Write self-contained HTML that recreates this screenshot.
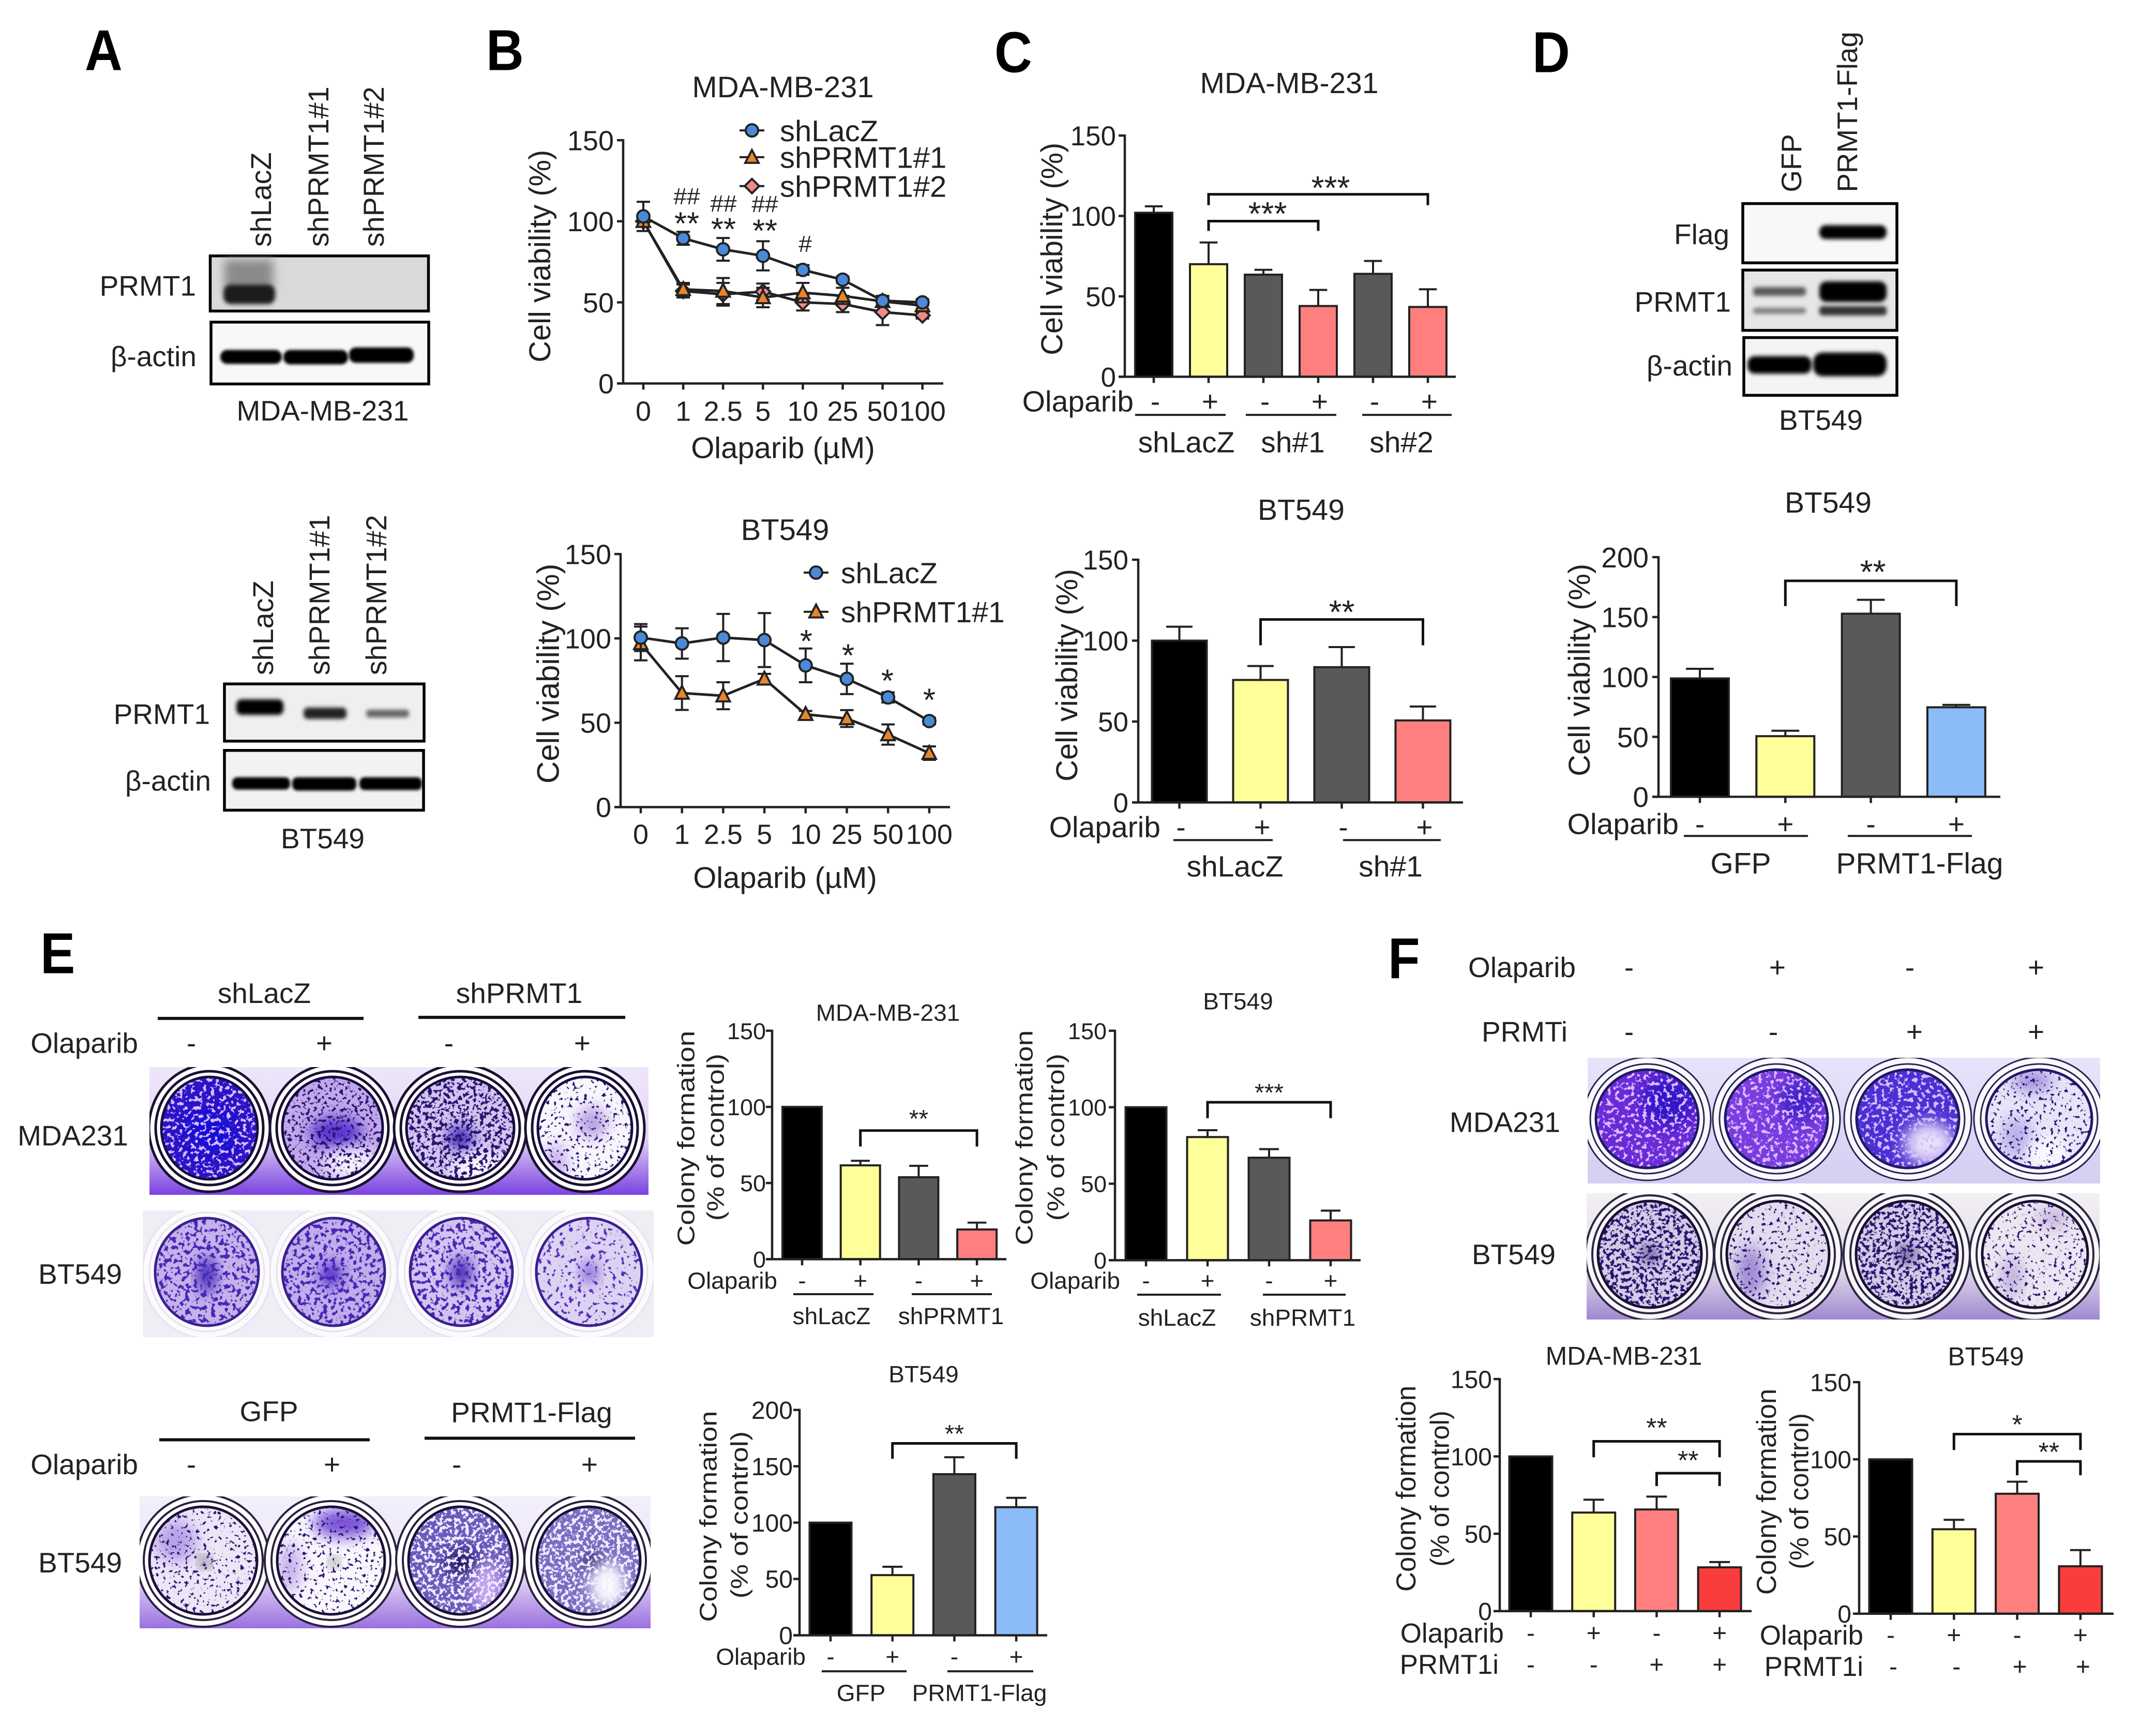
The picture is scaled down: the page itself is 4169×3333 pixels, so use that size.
<!DOCTYPE html>
<html lang="en">
<head>
<meta charset="utf-8">
<title>PRMT1 olaparib figure</title>
<style>
html,body{margin:0;padding:0;background:#fff;}
svg{display:block;}
text{font-family:"Liberation Sans",sans-serif;fill:#222;}
.m{text-anchor:middle;}
.e{text-anchor:end;}
.l{font-weight:bold;fill:#000;font-size:112px;}
</style>
</head>
<body>
<svg id="fig" xmlns="http://www.w3.org/2000/svg" width="4169" height="3333" viewBox="0 0 4169 3333">
<defs>
<filter id="b3" x="-30%" y="-60%" width="160%" height="220%"><feGaussianBlur stdDeviation="3"/></filter>
<filter id="b4" x="-30%" y="-60%" width="160%" height="220%"><feGaussianBlur stdDeviation="4"/></filter>
<filter id="b9" x="-30%" y="-80%" width="160%" height="260%"><feGaussianBlur stdDeviation="9"/></filter>
<filter id="p14" x="-50%" y="-50%" width="200%" height="200%"><feGaussianBlur stdDeviation="14"/></filter>
<filter id="d1" x="0" y="0" width="100%" height="100%" color-interpolation-filters="sRGB"><feTurbulence type="fractalNoise" baseFrequency=".14" numOctaves="2" seed="3"/><feColorMatrix values="0 0 0 0 .16  0 0 0 0 .08  0 0 0 0 .45  12 0 0 0 -7.4"/></filter>
<filter id="d2" x="0" y="0" width="100%" height="100%" color-interpolation-filters="sRGB"><feTurbulence type="fractalNoise" baseFrequency=".14" numOctaves="2" seed="7"/><feColorMatrix values="0 0 0 0 .16  0 0 0 0 .08  0 0 0 0 .45  12 0 0 0 -6.7"/></filter>
<filter id="d3" x="0" y="0" width="100%" height="100%" color-interpolation-filters="sRGB"><feTurbulence type="fractalNoise" baseFrequency=".14" numOctaves="2" seed="11"/><feColorMatrix values="0 0 0 0 .16  0 0 0 0 .08  0 0 0 0 .45  12 0 0 0 -6.1"/></filter>
<filter id="v1" x="0" y="0" width="100%" height="100%" color-interpolation-filters="sRGB"><feTurbulence type="fractalNoise" baseFrequency=".12" numOctaves="2" seed="13"/><feColorMatrix values="0 0 0 0 .34  0 0 0 0 .18  0 0 0 0 .74  12 0 0 0 -7.2"/></filter>
<filter id="v2" x="0" y="0" width="100%" height="100%" color-interpolation-filters="sRGB"><feTurbulence type="fractalNoise" baseFrequency=".12" numOctaves="2" seed="17"/><feColorMatrix values="0 0 0 0 .3  0 0 0 0 .14  0 0 0 0 .72  12 0 0 0 -6.4"/></filter>
<filter id="w1" x="0" y="0" width="100%" height="100%" color-interpolation-filters="sRGB"><feTurbulence type="fractalNoise" baseFrequency=".13" numOctaves="2" seed="5"/><feColorMatrix values="0 0 0 0 .86  0 0 0 0 .74  0 0 0 0 1  12 0 0 0 -6.6"/></filter>
<filter id="w2" x="0" y="0" width="100%" height="100%" color-interpolation-filters="sRGB"><feTurbulence type="fractalNoise" baseFrequency=".14" numOctaves="2" seed="9"/><feColorMatrix values="0 0 0 0 .95  0 0 0 0 .93  0 0 0 0 1  12 0 0 0 -6"/></filter>
<linearGradient id="pg1" x1="0" y1="0" x2="0" y2="1"><stop offset="0" stop-color="#efe6fa"/><stop offset=".55" stop-color="#e4d6f6"/><stop offset="1" stop-color="#7a42e0"/></linearGradient>
<linearGradient id="pg3" x1="0" y1="0" x2="0" y2="1"><stop offset="0" stop-color="#f2eefa"/><stop offset=".55" stop-color="#efe8f8"/><stop offset="1" stop-color="#9a70e0"/></linearGradient>
<linearGradient id="pg4" x1="0" y1="0" x2="0" y2="1"><stop offset="0" stop-color="#e6e4fa"/><stop offset="1" stop-color="#d4cef2"/></linearGradient>
<linearGradient id="pg5" x1="0" y1="0" x2="0" y2="1"><stop offset="0" stop-color="#f2f0f2"/><stop offset=".6" stop-color="#e4dcec"/><stop offset="1" stop-color="#a088d0"/></linearGradient>
</defs>

<g id="top" transform="scale(1 .9964)">
<!-- panel letters -->
<text class="l" transform="translate(164 136) scale(.9 1)">A</text>
<text class="l" transform="translate(940 136) scale(.9 1)">B</text>
<text class="l" transform="translate(1923 140) scale(.9 1)">C</text>
<text class="l" transform="translate(2963 140) scale(.9 1)">D</text>

<!-- panel A blots -->
<g>
<rect x="406.5" y="496.5" width="422" height="107" fill="#d9d9d9" stroke="#000" stroke-width="5.5"/>
<rect x="434" y="504" width="94" height="56" fill="#8a8a8a" filter="url(#b9)"/>
<rect x="432" y="552" width="100" height="38" rx="14" fill="#1c1c1c" filter="url(#b4)"/>
<rect x="408" y="625" width="421" height="120" fill="#f8f8f8" stroke="#000" stroke-width="5.5"/>
<rect x="426" y="679" width="119" height="27" rx="13" fill="#000" filter="url(#b3)"/>
<rect x="548" y="679" width="125" height="28" rx="13" fill="#000" filter="url(#b3)"/>
<rect x="675" y="674" width="125" height="30" rx="13" fill="#000" filter="url(#b3)"/>
</g>
<text transform="translate(504 479) rotate(-90)" dy=".36em" font-size="56">shLacZ</text>
<text transform="translate(615 479) rotate(-90)" dy=".36em" font-size="56">shPRMT1#1</text>
<text transform="translate(722 479) rotate(-90)" dy=".36em" font-size="56">shPRMT1#2</text>
<text class="e" x="379" y="554" dy=".36em" font-size="55">PRMT1</text>
<text class="e" x="380" y="691" dy=".36em" font-size="55">β-actin</text>
<text class="m" x="624" y="796" dy=".36em" font-size="55">MDA-MB-231</text>

<g>
<rect x="434" y="1327" width="386" height="111" fill="#efefef" stroke="#000" stroke-width="5.5"/>
<rect x="457" y="1357" width="91" height="30" rx="10" fill="#000" filter="url(#b4)"/>
<rect x="587" y="1373" width="83" height="22" rx="8" fill="#222" filter="url(#b4)"/>
<rect x="708" y="1377" width="83" height="15" rx="6" fill="#666" filter="url(#b4)"/>
<rect x="434" y="1456" width="385" height="116" fill="#f2f2f2" stroke="#000" stroke-width="5.5"/>
<rect x="449" y="1508" width="112" height="24" rx="10" fill="#000" filter="url(#b3)"/>
<rect x="565" y="1508" width="124" height="26" rx="10" fill="#000" filter="url(#b3)"/>
<rect x="695" y="1508" width="121" height="25" rx="10" fill="#000" filter="url(#b3)"/>
</g>
<text transform="translate(508 1310) rotate(-90)" dy=".36em" font-size="56">shLacZ</text>
<text transform="translate(617 1310) rotate(-90)" dy=".36em" font-size="56">shPRMT1#1</text>
<text transform="translate(727 1310) rotate(-90)" dy=".36em" font-size="56">shPRMT1#2</text>
<text class="e" x="406" y="1385" dy=".36em" font-size="55">PRMT1</text>
<text class="e" x="408" y="1514" dy=".36em" font-size="55">β-actin</text>
<text class="m" x="624" y="1626" dy=".36em" font-size="55">BT549</text>

<!-- panel D blots -->
<g>
<rect x="3370" y="395" width="298" height="115" fill="#f8f8f8" stroke="#000" stroke-width="5.5"/>
<rect x="3518" y="437" width="130" height="27" rx="12" fill="#000" filter="url(#b4)"/>
<rect x="3370" y="524" width="298" height="117" fill="#e6e6e6" stroke="#000" stroke-width="5.5"/>
<rect x="3390" y="557" width="102" height="17" rx="6" fill="#5a5a5a" filter="url(#b4)"/>
<rect x="3390" y="597" width="102" height="12" rx="5" fill="#808080" filter="url(#b4)"/>
<rect x="3518" y="546" width="130" height="40" rx="14" fill="#000" filter="url(#b4)"/>
<rect x="3518" y="594" width="130" height="18" rx="6" fill="#333" filter="url(#b4)"/>
<rect x="3372" y="655" width="296" height="112" fill="#f4f4f4" stroke="#000" stroke-width="5.5"/>
<rect x="3379" y="691" width="124" height="34" rx="14" fill="#000" filter="url(#b4)"/>
<rect x="3506" y="684" width="142" height="46" rx="18" fill="#000" filter="url(#b4)"/>
</g>
<text transform="translate(3463 373) rotate(-90)" dy=".36em" font-size="55">GFP</text>
<text transform="translate(3571 373) rotate(-90)" dy=".36em" font-size="55">PRMT1-Flag</text>
<text class="e" x="3344" y="454" dy=".36em" font-size="55">Flag</text>
<text class="e" x="3347" y="585" dy=".36em" font-size="55">PRMT1</text>
<text class="e" x="3350" y="709" dy=".36em" font-size="55">β-actin</text>
<text class="m" x="3521" y="814" dy=".36em" font-size="55">BT549</text>

<!-- panel B text -->
<text class="m" x="1514" y="168" dy=".36em" font-size="58">MDA-MB-231</text>
<text class="m" transform="translate(1043 497) rotate(-90)" dy=".36em" font-size="58">Cell viability (%)</text>
<text class="m" x="1514" y="868" dy=".36em" font-size="58">Olaparib (µM)</text>
<text x="1508" y="253" dy=".36em" font-size="58">shLacZ</text>
<text x="1508" y="305" dy=".36em" font-size="58">shPRMT1#1</text>
<text x="1508" y="361" dy=".36em" font-size="58">shPRMT1#2</text>
<g font-size="46" class="m">
<text class="m" x="1328" y="380" dy=".36em">##</text>
<text class="m" x="1399" y="394" dy=".36em">##</text>
<text class="m" x="1479" y="395" dy=".36em">##</text>
<text class="m" x="1557" y="472" dy=".36em">#</text>
<text class="m" x="1328" y="420" dy=".57em" font-size="62">**</text>
<text class="m" x="1399" y="431" dy=".57em" font-size="62">**</text>
<text class="m" x="1479" y="434" dy=".57em" font-size="62">**</text>
</g>
<text class="m" x="1518" y="1027" dy=".36em" font-size="58">BT549</text>
<text class="m" transform="translate(1059 1307) rotate(-90)" dy=".36em" font-size="60">Cell viability (%)</text>
<text class="m" x="1518" y="1702" dy=".36em" font-size="58">Olaparib (µM)</text>
<text x="1626" y="1111" dy=".36em" font-size="57">shLacZ</text>
<text x="1626" y="1187" dy=".36em" font-size="57">shPRMT1#1</text>
<g>
<text class="m" x="1559" y="1230" dy=".57em" font-size="62">*</text>
<text class="m" x="1640" y="1258" dy=".57em" font-size="62">*</text>
<text class="m" x="1716" y="1307" dy=".57em" font-size="62">*</text>
<text class="m" x="1797" y="1344" dy=".57em" font-size="62">*</text>
</g>

<!-- panel C text -->
<text class="m" x="2493" y="160" dy=".36em" font-size="57">MDA-MB-231</text>
<text class="m" transform="translate(2033 483) rotate(-90)" dy=".36em" font-size="58">Cell viability (%)</text>
<text class="e" x="2192" y="778" dy=".36em" font-size="57">Olaparib</text>
<text class="m" x="2294" y="857" dy=".36em" font-size="57">shLacZ</text>
<text class="m" x="2500" y="857" dy=".36em" font-size="57">sh#1</text>
<text class="m" x="2710" y="857" dy=".36em" font-size="57">sh#2</text>
<path d="M2195 805H2370M2409 805H2584M2634 805H2807" stroke="#222" stroke-width="4" fill="none"/>

<text class="m" x="2516" y="988" dy=".36em" font-size="57">BT549</text>
<text class="m" transform="translate(2062 1310) rotate(-90)" dy=".36em" font-size="58">Cell viability (%)</text>
<text class="e" x="2244" y="1604" dy=".36em" font-size="57">Olaparib</text>
<text class="m" x="2388" y="1680" dy=".36em" font-size="57">shLacZ</text>
<text class="m" x="2689" y="1680" dy=".36em" font-size="57">sh#1</text>
<path d="M2269 1630H2461M2597 1630H2786" stroke="#222" stroke-width="4" fill="none"/>

<!-- panel D chart text -->
<text class="m" x="3535" y="974" dy=".36em" font-size="57">BT549</text>
<text class="m" transform="translate(3053 1300) rotate(-90)" dy=".36em" font-size="58">Cell viability (%)</text>
<text class="e" x="3246" y="1598" dy=".36em" font-size="57">Olaparib</text>
<text class="m" x="3366" y="1674" dy=".36em" font-size="57">GFP</text>
<text class="m" x="3712" y="1674" dy=".36em" font-size="57">PRMT1-Flag</text>
<path d="M3256 1622H3496M3573 1622H3813" stroke="#222" stroke-width="4" fill="none"/>
</g>

<g id="bot" transform="translate(0 1750) scale(1 .9947) translate(0 -1750)">
<text class="l" transform="translate(78 1882) scale(.9 1)">E</text>
<text class="l" transform="translate(2684 1892) scale(.9 1)">F</text>

<!-- panel E plate labels -->
<text class="m" x="511" y="1920" dy=".36em" font-size="55">shLacZ</text>
<text class="m" x="1004" y="1920" dy=".36em" font-size="55">shPRMT1</text>
<path d="M305 1970H703M809 1968H1209" stroke="#111" stroke-width="6" fill="none"/>
<text class="e" x="267" y="2017" dy=".36em" font-size="55">Olaparib</text>
<g font-size="55">
<text class="m" x="370" y="2017" dy=".36em">-</text>
<text class="m" x="627" y="2017" dy=".36em">+</text>
<text class="m" x="868" y="2017" dy=".36em">-</text>
<text class="m" x="1126" y="2017" dy=".36em">+</text>
</g>
<text class="m" x="141" y="2197" dy=".36em" font-size="55">MDA231</text>
<text class="m" x="155" y="2466" dy=".36em" font-size="55">BT549</text>
<text class="m" x="520" y="2733" dy=".36em" font-size="55">GFP</text>
<text class="m" x="1028" y="2735" dy=".36em" font-size="55">PRMT1-Flag</text>
<path d="M308 2789H715M821 2786H1228" stroke="#111" stroke-width="6" fill="none"/>
<text class="e" x="267" y="2836" dy=".36em" font-size="55">Olaparib</text>
<g font-size="55">
<text class="m" x="370" y="2836" dy=".36em">-</text>
<text class="m" x="642" y="2836" dy=".36em">+</text>
<text class="m" x="883" y="2836" dy=".36em">-</text>
<text class="m" x="1140" y="2836" dy=".36em">+</text>
</g>
<text class="m" x="155" y="3027" dy=".36em" font-size="55">BT549</text>

<!-- panel E chart text -->
<text class="m" x="1717" y="1958" dy=".36em" font-size="46">MDA-MB-231</text>
<text class="m" transform="translate(1326 2203) rotate(-90)" dy=".36em" font-size="46" textLength="418" lengthAdjust="spacingAndGlyphs">Colony formation</text>
<text class="m" transform="translate(1383 2201) rotate(-90)" dy=".36em" font-size="46" textLength="325" lengthAdjust="spacingAndGlyphs">(% of control)</text>
<text class="e" x="1503" y="2479" dy=".36em" font-size="46">Olaparib</text>
<text class="m" x="1608" y="2548" dy=".36em" font-size="46">shLacZ</text>
<text class="m" x="1839" y="2548" dy=".36em" font-size="46">shPRMT1</text>
<path d="M1534 2506H1689M1763 2506H1918" stroke="#222" stroke-width="4" fill="none"/>

<text class="m" x="2394" y="1936" dy=".36em" font-size="46">BT549</text>
<text class="m" transform="translate(1980 2202) rotate(-90)" dy=".36em" font-size="46" textLength="418" lengthAdjust="spacingAndGlyphs">Colony formation</text>
<text class="m" transform="translate(2041 2201) rotate(-90)" dy=".36em" font-size="46" textLength="325" lengthAdjust="spacingAndGlyphs">(% of control)</text>
<text class="e" x="2166" y="2479" dy=".36em" font-size="46">Olaparib</text>
<text class="m" x="2276" y="2551" dy=".36em" font-size="46">shLacZ</text>
<text class="m" x="2519" y="2551" dy=".36em" font-size="46">shPRMT1</text>
<path d="M2199 2507H2361M2442 2507H2602" stroke="#222" stroke-width="4" fill="none"/>

<text class="m" x="1786" y="2661" dy=".36em" font-size="46">BT549</text>
<text class="m" transform="translate(1369 2938) rotate(-90)" dy=".36em" font-size="46" textLength="410" lengthAdjust="spacingAndGlyphs">Colony formation</text>
<text class="m" transform="translate(1429 2935) rotate(-90)" dy=".36em" font-size="46" textLength="325" lengthAdjust="spacingAndGlyphs">(% of control)</text>
<text class="e" x="1558" y="3210" dy=".36em" font-size="46">Olaparib</text>
<text class="m" x="1665" y="3280" dy=".36em" font-size="46">GFP</text>
<text class="m" x="1894" y="3280" dy=".36em" font-size="46">PRMT1-Flag</text>
<path d="M1589 3239H1753M1832 3239H1998" stroke="#222" stroke-width="4" fill="none"/>

<!-- panel F labels -->
<text class="m" x="2943" y="1870" dy=".36em" font-size="55">Olaparib</text>
<text class="m" x="2948" y="1995" dy=".36em" font-size="55">PRMTi</text>
<g font-size="55">
<text class="m" x="3150" y="1870" dy=".36em">-</text>
<text class="m" x="3437" y="1870" dy=".36em">+</text>
<text class="m" x="3693" y="1870" dy=".36em">-</text>
<text class="m" x="3937" y="1870" dy=".36em">+</text>
<text class="m" x="3150" y="1995" dy=".36em">-</text>
<text class="m" x="3429" y="1995" dy=".36em">-</text>
<text class="m" x="3702" y="1995" dy=".36em">+</text>
<text class="m" x="3937" y="1995" dy=".36em">+</text>
</g>
<text class="m" x="2910" y="2171" dy=".36em" font-size="55">MDA231</text>
<text class="m" x="2927" y="2428" dy=".36em" font-size="55">BT549</text>

<text class="m" x="3140" y="2625" dy=".36em" font-size="50">MDA-MB-231</text>
<text class="m" transform="translate(2718 2884) rotate(-90)" dy=".36em" font-size="53">Colony formation</text>
<text class="m" transform="translate(2783 2884) rotate(-90)" dy=".36em" font-size="51">(% of control)</text>
<text class="e" x="2908" y="3164" dy=".36em" font-size="53">Olaparib</text>
<text class="e" x="2898" y="3225" dy=".36em" font-size="53">PRMT1i</text>

<text class="m" x="3840" y="2626" dy=".36em" font-size="50">BT549</text>
<text class="m" transform="translate(3415 2890) rotate(-90)" dy=".36em" font-size="53">Colony formation</text>
<text class="m" transform="translate(3478 2889) rotate(-90)" dy=".36em" font-size="51">(% of control)</text>
<text class="e" x="3603" y="3168" dy=".36em" font-size="53">Olaparib</text>
<text class="e" x="3603" y="3229" dy=".36em" font-size="53">PRMT1i</text>
</g>
</svg>

<script>
/* ---------- chart data ---------- */
const doseLabels = ['0','1','2.5','5','10','25','50','100'];
const viabilityTicks = [0,50,100,150];
const colonyTicks = [0,50,100,150];
const wideTicks = [0,50,100,150,200];

const b1ShLacZ = [103,89.5,82.7,78.7,70,64,51,50];
const b1ShLacZErr = [9,4,7,9,3,2,3,2];
const b1Sh1 = [100,58,57,53,56,54,50.6,48];
const b1Sh1Err = [3,4,8,6,6,5,3,2];
const b1Sh2 = [100,57,55,56.6,50,49,44,42];
const b1Sh2Err = [3,4,7,5,5,5,8,2];

const b2ShLacZ = [100.5,97,100.5,99,84,76,65,51];
const b2ShLacZErr = [8,9,14,16,10,9,3,2];
const b2Sh1 = [97,67.6,66,76,55,52.5,43,32];
const b2Sh1Err = [10,10,8,3,2,5,6,4];

const c1Categories = ['shLacZ -','shLacZ +','sh#1 -','sh#1 +','sh#2 -','sh#2 +'];
const c1Values = [102,70,63.5,44,64,43.4];
const c1Errors = [4,13.5,3,10,8,11];
const c1Olaparib = ['-','+','-','+','-','+'];

const c2Categories = ['shLacZ -','shLacZ +','sh#1 -','sh#1 +'];
const c2Values = [100,75.7,83.6,50.7];
const c2Errors = [8.6,8.6,12.4,8.6];
const c2Olaparib = ['-','+','-','+'];

const dCategories = ['GFP -','GFP +','PRMT1-Flag -','PRMT1-Flag +'];
const dValues = [98.8,50.6,152.8,74.7];
const dErrors = [8,4.5,11.6,2];
const dOlaparib = ['-','+','-','+'];

const e1Categories = ['shLacZ -','shLacZ +','shPRMT1 -','shPRMT1 +'];
const e1Values = [100,61.6,53.8,19.5];
const e1Errors = [0,3,7.5,4.5];
const e1Olaparib = ['-','+','-','+'];

const e2Categories = ['shLacZ -','shLacZ +','shPRMT1 -','shPRMT1 +'];
const e2Values = [100,80.5,67,26];
const e2Errors = [0,4.5,5.6,6.4];
const e2Olaparib = ['-','+','-','+'];

const e3Categories = ['GFP -','GFP +','PRMT1-Flag -','PRMT1-Flag +'];
const e3Values = [100,53.4,143,113.7];
const e3Errors = [0,7.4,15,8.3];
const e3Olaparib = ['-','+','-','+'];

const f1Categories = ['control','olaparib','PRMT1i','olaparib + PRMT1i'];
const f1Values = [100,63.7,65.7,28.3];
const f1Errors = [0,8.3,8.3,3.4];
const f1Olaparib = ['-','+','-','+'];
const f1Prmt1i = ['-','-','+','+'];

const f2Categories = ['control','olaparib','PRMT1i','olaparib + PRMT1i'];
const f2Values = [100,54.7,77.7,30.7];
const f2Errors = [0,6.1,7.8,10.5];
const f2Olaparib = ['-','+','-','+'];
const f2Prmt1i = ['-','-','+','+'];

/* ---------- helpers ---------- */
const NS = 'http://www.w3.org/2000/svg';
const root = document.getElementById('fig');
const topGroup = document.getElementById('top');
const botGroup = document.getElementById('bot');
const TICK = 12;

function add(parent, tag, name, attrs, txt) {
  const el = document.createElementNS(NS, tag);
  
  
  for (const k in attrs) el.setAttribute(k, attrs[k]);
  if (txt !== undefined) el.textContent = txt;
  parent.appendChild(el);
  return el;
}

function yAxis(g, c, y, ticks) {
  add(g, 'line', 'y-axis-line', {x1:c.axisX, x2:c.axisX, y1:y(c.max)-2, y2:c.y0+2, stroke:'#222', 'stroke-width':c.lw});
  ticks.forEach(function (t) {
    add(g, 'line', 'y-tick', {x1:c.axisX-TICK, x2:c.axisX, y1:y(t), y2:y(t), stroke:'#222', 'stroke-width':c.lw});
    add(g, 'text', 'y-tick-label', {x:c.labelRight, y:y(t), dy:'.36em', class:'e', 'font-size':c.tickFont}, String(t));
  });
}

function barChart(parent, c) {
  const g = add(parent, 'g', c.name, {});
  const x = function (i) { return c.x1 + c.step * i; };
  const y = function (v) { return c.y0 - v * (c.y0 - c.yMax) / c.max; };
  c.lw = c.lw || 4.5;
  c.values.forEach(function (v, i) {
    const cap = c.barW * 0.24;
    if (c.errors[i] > 0) {
      const top = y(v + c.errors[i]);
      add(g, 'path', 'error-bar', {d:'M' + (x(i) - cap) + ' ' + top + 'H' + (x(i) + cap) + 'M' + x(i) + ' ' + top + 'V' + y(v), stroke:'#222', 'stroke-width':4, fill:'none'});
    }
    const bar = add(g, 'rect', 'bar-' + c.categories[i].replace(/[^a-zA-Z0-9]+/g, '-').toLowerCase(), {x:x(i) - c.barW / 2, y:y(v), width:c.barW, height:c.y0 - y(v), fill:c.fills[i], stroke:'#222', 'stroke-width':4});
    add(bar, 'title', 'bar-tooltip', {}, c.categories[i]);
    add(g, 'line', 'x-tick', {x1:x(i), x2:x(i), y1:c.y0, y2:c.y0 + TICK, stroke:'#222', 'stroke-width':c.lw});
  });
  add(g, 'line', 'x-axis-line', {x1:c.axisX - TICK, x2:c.axisEnd, y1:c.y0, y2:c.y0, stroke:'#222', 'stroke-width':c.lw});
  yAxis(g, c, y, c.ticks);
  c.rows.forEach(function (r) {
    r.vals.forEach(function (s, i) {
      add(g, 'text', 'treatment-sign', {x:x(i) + r.dx, y:r.y, dy:'.36em', class:'m', 'font-size':c.signFont}, s);
    });
  });
  return {x:x, y:y, g:g};
}

function bracket(ch, i, j, top, drop, label, size, textY, dx) {
  const a = ch.x(i), b = ch.x(j);
  add(ch.g, 'path', 'significance-bracket', {d:'M' + a + ' ' + drop + 'V' + top + 'H' + b + 'V' + drop, stroke:'#111', 'stroke-width':5, fill:'none'});
  add(ch.g, 'text', 'significance-stars', {x:(a + b) / 2 + (dx || 0), y:textY, dy:'.57em', class:'m', 'font-size':size}, label);
}

function marker(g, kind, cx, cy, fill, name) {
  const s = 12, st = {fill:fill, stroke:'#222', 'stroke-width':4};
  if (kind === 'circle') { add(g, 'circle', name, Object.assign({cx:cx, cy:cy, r:s}, st)); }
  if (kind === 'triangle') { add(g, 'path', name, Object.assign({d:'M' + cx + ' ' + (cy - s - 2) + 'L' + (cx + s + 1) + ' ' + (cy + s - 1) + 'H' + (cx - s - 1) + 'Z'}, st)); }
  if (kind === 'diamond') { add(g, 'path', name, Object.assign({d:'M' + cx + ' ' + (cy - s - 2) + 'L' + (cx + s + 2) + ' ' + cy + 'L' + cx + ' ' + (cy + s + 2) + 'L' + (cx - s - 2) + ' ' + cy + 'Z'}, st)); }
}

function lineChart(parent, c) {
  const g = add(parent, 'g', c.name, {});
  const x = function (i) { return c.x1 + c.step * i; };
  const y = function (v) { return c.y0 - v * (c.y0 - c.yMax) / c.max; };
  c.lw = 4.5;
  c.series.forEach(function (s) {
    let d = '';
    s.values.forEach(function (v, i) { d += (i ? 'L' : 'M') + x(i) + ' ' + y(v); });
    add(g, 'path', s.name + '-line', {d:d, stroke:'#222', 'stroke-width':5, fill:'none'});
    s.values.forEach(function (v, i) {
      const a = y(v + s.errors[i]), b = y(v - s.errors[i]);
      add(g, 'path', s.name + '-error-bar', {d:'M' + (x(i) - 13) + ' ' + a + 'H' + (x(i) + 13) + 'M' + (x(i) - 13) + ' ' + b + 'H' + (x(i) + 13) + 'M' + x(i) + ' ' + a + 'V' + b, stroke:'#222', 'stroke-width':4, fill:'none'});
    });
    s.values.forEach(function (v, i) { marker(g, s.marker, x(i), y(v), s.fill, s.name + '-point'); });
    add(g, 'line', 'legend-key-line', {x1:c.legendX - 24, x2:c.legendX + 24, y1:s.legendY, y2:s.legendY, stroke:'#222', 'stroke-width':4});
    marker(g, s.marker, c.legendX, s.legendY, s.fill, 'legend-key-marker');
  });
  c.labels.forEach(function (l, i) {
    add(g, 'line', 'x-tick', {x1:x(i), x2:x(i), y1:c.y0, y2:c.y0 + TICK, stroke:'#222', 'stroke-width':c.lw});
    add(g, 'text', 'x-tick-label', {x:x(i), y:c.labelY, dy:'.36em', class:'m', 'font-size':c.tickFont}, l);
  });
  add(g, 'line', 'x-axis-line', {x1:c.axisX - TICK, x2:c.axisEnd, y1:c.y0, y2:c.y0, stroke:'#222', 'stroke-width':c.lw});
  yAxis(g, c, y, c.ticks);
}

/* wells: {cx, rx, base, grain, patches:[[x,y,rx,ry,colour]...]} — photographs of stained plates, not chart data */
function plate(p) {
  const g = add(root, 'g', p.name, {});
  const clipId = p.name + '-clip';
  const defs = add(g, 'defs', 'plate-defs', {});
  const cp = add(defs, 'clipPath', 'plate-clip', {id:clipId});
  add(cp, 'rect', 'plate-clip-box', {x:p.x, y:p.y, width:p.w, height:p.h});
  const inner = add(g, 'g', 'plate-image', {'clip-path':'url(#' + clipId + ')'});
  add(inner, 'rect', 'plate-background', {x:p.x, y:p.y, width:p.w, height:p.h, fill:p.bg});
  p.wells.forEach(function (w, i) {
    const id = p.name + '-w' + i;
    add(inner, 'ellipse', 'well-rim', {cx:w.cx, cy:p.cy, rx:w.rx + 24, ry:p.ry + 24, fill:p.rim, stroke:p.ring, 'stroke-width':p.ringW});
    add(inner, 'ellipse', 'well-rim-inner', {cx:w.cx, cy:p.cy, rx:w.rx + 11, ry:p.ry + 11, fill:p.rim, stroke:p.ring, 'stroke-width':p.ringW});
    const wc = add(defs, 'clipPath', 'well-clip', {id:id});
    add(wc, 'ellipse', 'well-clip-ellipse', {cx:w.cx, cy:p.cy, rx:w.rx, ry:p.ry});
    const disk = add(inner, 'g', 'well', {'clip-path':'url(#' + id + ')'});
    add(disk, 'rect', 'well-base', {x:w.cx - w.rx, y:p.cy - p.ry, width:2 * w.rx, height:2 * p.ry, fill:w.base});
    (w.patches || []).forEach(function (q) {
      add(disk, 'ellipse', 'well-shade', {cx:q[0], cy:q[1], rx:q[2], ry:q[3], fill:q[4], filter:'url(#p14)'});
    });
    add(disk, 'rect', 'well-colonies', {x:w.cx - w.rx, y:p.cy - p.ry, width:2 * w.rx, height:2 * p.ry, filter:'url(#' + w.grain + ')'});
    add(inner, 'ellipse', 'well-edge', {cx:w.cx, cy:p.cy, rx:w.rx, ry:p.ry, fill:'none', stroke:p.edge, 'stroke-width':5});
  });
}

/* ---------- colony plates (real pixel positions) ---------- */
plate({name:'plate-e-mda231', x:289, y:2063, w:965, h:247, cy:2181, ry:99, bg:'url(#pg1)', rim:'#fff', ring:'#1a1030', ringW:5, edge:'#160c40', wells:[
  {cx:405, rx:93, base:'#2a14c8', grain:'w1', patches:[[405,2190,50,40,'#1408d8']]},
  {cx:643, rx:97, base:'#c2a8ea', grain:'d2', patches:[[650,2190,50,30,'#5a30d0'],[680,2250,55,30,'#f6f2fc']]},
  {cx:890, rx:104, base:'#d4c4f0', grain:'d3', patches:[[890,2200,24,22,'#2a18b8'],[930,2260,55,26,'#fff']]},
  {cx:1131, rx:91, base:'#f8f6fd', grain:'d1', patches:[[1075,2250,22,40,'#c8b0ec'],[1145,2170,30,30,'#b8a0e4']]}
]});
plate({name:'plate-e-bt549', x:276, y:2340, w:988, h:245, cy:2459, ry:104, bg:'#f1edf5', rim:'#fbfafd', ring:'#e8e2f0', ringW:3, edge:'#3a2090', wells:[
  {cx:400, rx:100, base:'#c4b2ea', grain:'v2', patches:[[400,2465,16,34,'#2c10b0']]},
  {cx:645, rx:99, base:'#c0aeea', grain:'v2', patches:[[640,2465,20,22,'#3a18c0']]},
  {cx:892, rx:99, base:'#d2c4f0', grain:'v2', patches:[[892,2460,18,28,'#2a10a8']]},
  {cx:1139, rx:102, base:'#dcd2f2', grain:'v1', patches:[[1140,2460,14,20,'#6a48cc']]}
]});
plate({name:'plate-e-bt549-flag', x:270, y:2893, w:988, h:255, cy:3017, ry:104, bg:'url(#pg3)', rim:'#fff', ring:'#2a2040', ringW:4, edge:'#1a1038', wells:[
  {cx:393, rx:104, base:'#ece6f6', grain:'d1', patches:[[340,2980,40,40,'#b8a0e8'],[396,3020,9,9,'#08041a']]},
  {cx:640, rx:104, base:'#faf8fd', grain:'d1', patches:[[665,2945,60,28,'#7a50d8'],[560,3030,25,50,'#c8b4ec'],[646,3020,8,8,'#08041a']]},
  {cx:890, rx:100, base:'#6a5abc', grain:'w2', patches:[[893,3020,32,22,'#140a60'],[942,3070,28,50,'#caa8f4']]},
  {cx:1138, rx:100, base:'#7a6cc2', grain:'w2', patches:[[1147,3020,16,14,'#100850'],[1175,3065,34,44,'#fff']]}
]});
plate({name:'plate-f-mda231', x:3070, y:2045, w:991, h:243, cy:2163, ry:95, bg:'url(#pg4)', rim:'#f8f8ff', ring:'#2a2450', ringW:3, edge:'#201868', wells:[
  {cx:3185, rx:99, base:'#6a2ad8', grain:'w1', patches:[[3225,2130,50,50,'#3018c8']]},
  {cx:3435, rx:99, base:'#7a3ce0', grain:'w1', patches:[[3480,2130,40,40,'#4424cc']]},
  {cx:3689, rx:99, base:'#4a30d4', grain:'w1', patches:[[3730,2210,48,40,'#e6e2f8']]},
  {cx:3943, rx:102, base:'#e8e4f8', grain:'d1', patches:[[3900,2200,30,40,'#b8b0e8'],[3930,2090,40,20,'#a090dc'],[3960,2230,40,30,'#fafaff']]}
]});
plate({name:'plate-f-bt549', x:3068, y:2307, w:992, h:244, cy:2425, ry:103, bg:'url(#pg5)', rim:'#f8f6fa', ring:'#2c2840', ringW:4, edge:'#181030', wells:[
  {cx:3190, rx:100, base:'#d4cce6', grain:'d3', patches:[[3190,2425,14,14,'#1c1060']]},
  {cx:3438, rx:99, base:'#e4dcee', grain:'d1', patches:[[3385,2460,28,50,'#a08cd4']]},
  {cx:3687, rx:98, base:'#d4cce6', grain:'d3', patches:[[3687,2425,14,14,'#100840']]},
  {cx:3935, rx:102, base:'#ece6f2', grain:'d1', patches:[[3890,2470,20,40,'#c0b0dc'],[3970,2355,30,20,'#c8b4dc']]}
]});

/* ---------- line charts ---------- */
lineChart(topGroup, {name:'chart-b1-mda-mb-231', axisX:1205, axisEnd:1824, x1:1244, step:77.1, y0:744, yMax:272, max:150, ticks:viabilityTicks, labels:doseLabels, tickFont:54, labelRight:1187, labelY:797, legendX:1454,
  series:[
    {name:'shprmt1-2', values:b1Sh2, errors:b1Sh2Err, marker:'diamond', fill:'#f08a8a', legendY:361},
    {name:'shprmt1-1', values:b1Sh1, errors:b1Sh1Err, marker:'triangle', fill:'#e8862a', legendY:305},
    {name:'shlacz', values:b1ShLacZ, errors:b1ShLacZErr, marker:'circle', fill:'#4a8ad8', legendY:253}
  ]});
lineChart(topGroup, {name:'chart-b2-bt549', axisX:1200, axisEnd:1837, x1:1239, step:79.7, y0:1566, yMax:1075, max:150, ticks:viabilityTicks, labels:doseLabels, tickFont:54, labelRight:1182, labelY:1618, legendX:1578,
  series:[
    {name:'shprmt1-1', values:b2Sh1, errors:b2Sh1Err, marker:'triangle', fill:'#e8862a', legendY:1187},
    {name:'shlacz', values:b2ShLacZ, errors:b2ShLacZErr, marker:'circle', fill:'#4a8ad8', legendY:1111}
  ]});

/* ---------- bar charts ---------- */
const K = '#000', Y = '#ffff99', G = '#595959', P = '#ff7f7f', B = '#8bbcf7', R = '#f93c3c';

const chC1 = barChart(topGroup, {name:'chart-c1-mda-mb-231', axisX:2175, axisEnd:2815, x1:2231, step:106, barW:72, y0:731, yMax:263, max:150, categories:c1Categories, values:c1Values, errors:c1Errors, ticks:viabilityTicks, fills:[K,Y,G,P,G,P], tickFont:53, signFont:55, labelRight:2158, rows:[{vals:c1Olaparib, y:778, dx:3}]});
bracket(chC1, 1, 5, 377, 398, '***', 64, 350, 24);
bracket(chC1, 1, 3, 429, 448, '***', 64, 400, 8);

const chC2 = barChart(topGroup, {name:'chart-c2-bt549', axisX:2201, axisEnd:2829, x1:2280.5, step:157, barW:106, y0:1557, yMax:1086, max:150, categories:c2Categories, values:c2Values, errors:c2Errors, ticks:viabilityTicks, fills:[K,Y,G,P], tickFont:53, signFont:55, labelRight:2182, rows:[{vals:c2Olaparib, y:1604, dx:3}]});
bracket(chC2, 1, 3, 1202, 1252, '**', 64, 1173, 0);

const chD = barChart(topGroup, {name:'chart-d-bt549', axisX:3207, axisEnd:3868, x1:3287, step:165.3, barW:112, y0:1546, yMax:1081, max:200, categories:dCategories, values:dValues, errors:dErrors, ticks:wideTicks, fills:[K,Y,G,B], tickFont:55, signFont:55, labelRight:3188, rows:[{vals:dOlaparib, y:1598, dx:0}]});
bracket(chD, 1, 3, 1127, 1176, '**', 64, 1095, 4);

const chE1 = barChart(botGroup, {name:'chart-e1-mda-mb-231', axisX:1493, axisEnd:1946, x1:1551, step:112.7, barW:76, y0:2438, yMax:1994, max:150, categories:e1Categories, values:e1Values, errors:e1Errors, ticks:colonyTicks, fills:[K,Y,G,P], tickFont:45, signFont:46, labelRight:1481, rows:[{vals:e1Olaparib, y:2479, dx:0}]});
bracket(chE1, 1, 3, 2188, 2219, '**', 48, 2154, 0);

const chE2 = barChart(botGroup, {name:'chart-e2-bt549', axisX:2156, axisEnd:2631, x1:2216, step:119, barW:79, y0:2440, yMax:1994, max:150, categories:e2Categories, values:e2Values, errors:e2Errors, ticks:colonyTicks, fills:[K,Y,G,P], tickFont:45, signFont:46, labelRight:2140, rows:[{vals:e2Olaparib, y:2479, dx:0}]});
bracket(chE2, 1, 3, 2133, 2164, '***', 48, 2103, 0);

const chE3 = barChart(botGroup, {name:'chart-e3-bt549', axisX:1546, axisEnd:2025, x1:1606, step:119.7, barW:81, y0:3169, yMax:2731, max:200, categories:e3Categories, values:e3Values, errors:e3Errors, ticks:wideTicks, fills:[K,Y,G,B], tickFont:48, signFont:46, labelRight:1533, rows:[{vals:e3Olaparib, y:3210, dx:0}]});
bracket(chE3, 1, 3, 2796, 2826, '**', 48, 2766, 0);

const chF1 = barChart(botGroup, {name:'chart-f1-mda-mb-231', axisX:2900, axisEnd:3387, x1:2960, step:121.7, barW:83, y0:3122, yMax:2671, max:150, categories:f1Categories, values:f1Values, errors:f1Errors, ticks:colonyTicks, fills:[K,Y,P,R], tickFont:48, signFont:48, labelRight:2885, rows:[{vals:f1Olaparib, y:3164, dx:0},{vals:f1Prmt1i, y:3225, dx:0}]});
bracket(chF1, 1, 3, 2792, 2823, '**', 52, 2754, 0);
bracket(chF1, 2, 3, 2854, 2879, '**', 52, 2817, 0);

const chF2 = barChart(botGroup, {name:'chart-f2-bt549', axisX:3595, axisEnd:4087, x1:3656, step:122.3, barW:83, y0:3127, yMax:2677, max:150, categories:f2Categories, values:f2Values, errors:f2Errors, ticks:colonyTicks, fills:[K,Y,P,R], tickFont:48, signFont:48, labelRight:3580, rows:[{vals:f2Olaparib, y:3168, dx:0},{vals:f2Prmt1i, y:3229, dx:5}]});
bracket(chF2, 1, 3, 2778, 2809, '*', 52, 2748, 0);
bracket(chF2, 2, 3, 2831, 2858, '**', 52, 2801, 0);
</script>
</body>
</html>
